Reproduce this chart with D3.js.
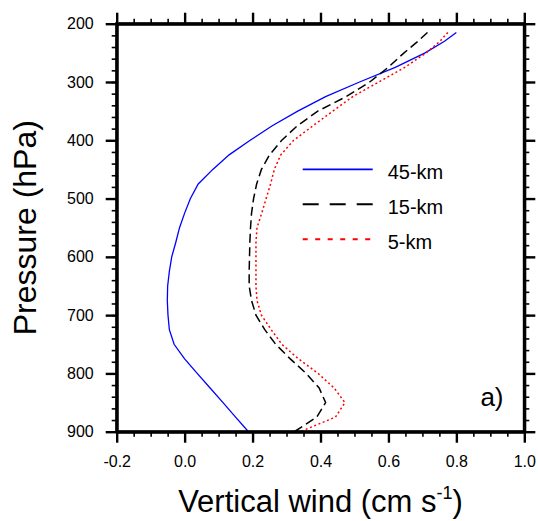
<!DOCTYPE html>
<html>
<head>
<meta charset="utf-8">
<script src="https://cdn.jsdelivr.net/npm/d3@7"></script>
<style>
  body { margin: 0; background: #fff; }
  text { font-family: Helvetica, Arial, "Liberation Sans", sans-serif; fill: #000; }
</style>
</head>
<body>
<svg id="chart" width="538" height="521"></svg>
<script>
// pressure levels (hPa), shared by the three runs
var levels = [215, 230, 250, 275, 300, 325, 350, 375, 400, 425, 450, 475, 500, 525, 550,
              575, 600, 625, 650, 675, 700, 725, 750, 775, 800, 825, 850, 875, 900];

// vertical wind (cm s-1)
var wind45 = [0.80, 0.765, 0.708, 0.62, 0.515, 0.415, 0.333, 0.258, 0.193, 0.131, 0.083, 0.040, 0.017, 0.0, -0.015,
              -0.026, -0.038, -0.045, -0.050, -0.051, -0.049, -0.045, -0.031, 0.0, 0.037, 0.075, 0.113, 0.150, 0.188];
var wind15 = [0.715, 0.687, 0.646, 0.599, 0.545, 0.476, 0.392, 0.332, 0.286, 0.250, 0.226, 0.212, 0.203, 0.197, 0.194,
              0.192, 0.191, 0.190, 0.190, 0.197, 0.210, 0.236, 0.268, 0.311, 0.358, 0.396, 0.415, 0.389, 0.323];
var wind5  = [0.775, 0.752, 0.711, 0.648, 0.572, 0.495, 0.436, 0.378, 0.321, 0.283, 0.264, 0.253, 0.240, 0.227, 0.213,
              0.210, 0.210, 0.210, 0.210, 0.213, 0.226, 0.255, 0.286, 0.335, 0.393, 0.440, 0.472, 0.444, 0.340];

var seriesNames = ["45-km", "15-km", "5-km"];
var xTicks = [-0.2, 0.0, 0.2, 0.4, 0.6, 0.8, 1.0];
var yTicks = [200, 300, 400, 500, 600, 700, 800, 900];

// plot box (window.top is reserved, so prefixed names)
var pLeft = 116.7, pRight = 524.3, pTop = 23.7, pBottom = 431.7;

var x = d3.scaleLinear().domain([-0.2, 1.0]).range([pLeft, pRight]);
var y = d3.scaleLinear().domain([200, 900]).range([pTop, pBottom]);

var svg = d3.select("#chart");

var styles = [
    {color: "#0000ff", width: 1.3, dash: null, legendDash: null},
    {color: "#000000", width: 1.5, dash: "9,4.5", legendDash: "16,11"},
    {color: "#ff0000", width: 1.5, dash: "2,2.6", legendDash: "5,7.5"}
];
var allSeries = [wind45, wind15, wind5];

var line = d3.line()
    .x(function (d) { return x(d[0]); })
    .y(function (d) { return y(d[1]); });

allSeries.forEach(function (vals, i) {
    var pts = vals.map(function (v, j) { return [v, levels[j]]; });
    svg.append("path")
        .attr("d", line(pts))
        .attr("fill", "none")
        .attr("stroke", styles[i].color)
        .attr("stroke-width", styles[i].width)
        .attr("stroke-dasharray", styles[i].dash);
});

// minor ticks
var xMinor = d3.range(-0.2, 1.0001, 0.05);
var yMinor = d3.range(200, 901, 20);

function drawAxis(gen, tr, minorGen) {
    var gm = svg.append("g").attr("transform", tr).call(minorGen);
    gm.selectAll("text").remove();
    gm.select(".domain").remove();
    gm.selectAll("line").attr("stroke-width", 1.6);
    var g = svg.append("g").attr("transform", tr).call(gen);
    g.select(".domain").attr("stroke-width", 3);
    g.selectAll(".tick line").attr("stroke-width", 2.4);
    g.attr("font-size", null).attr("font-family", null);
    g.selectAll("text").style("font-size", "16px");
    return g;
}

var fmtX = function (d) { return d.toFixed(1); };

drawAxis(d3.axisBottom(x).tickValues(xTicks).tickSize(11).tickSizeOuter(0).tickPadding(13).tickFormat(fmtX),
    "translate(0," + pBottom + ")",
    d3.axisBottom(x).tickValues(xMinor).tickSize(5).tickSizeOuter(0));

drawAxis(d3.axisTop(x).tickValues(xTicks).tickSize(11).tickSizeOuter(0).tickFormat(""),
    "translate(0," + pTop + ")",
    d3.axisTop(x).tickValues(xMinor).tickSize(5).tickSizeOuter(0));

drawAxis(d3.axisLeft(y).tickValues(yTicks).tickSize(11).tickSizeOuter(0).tickPadding(12).tickFormat(d3.format("d")),
    "translate(" + pLeft + ",0)",
    d3.axisLeft(y).tickValues(yMinor).tickSize(5).tickSizeOuter(0));

drawAxis(d3.axisRight(y).tickValues(yTicks).tickSize(11).tickSizeOuter(0).tickFormat(""),
    "translate(" + pRight + ",0)",
    d3.axisRight(y).tickValues(yMinor).tickSize(5).tickSizeOuter(0));

// frame
svg.append("rect")
    .attr("x", pLeft).attr("y", pTop)
    .attr("width", pRight - pLeft).attr("height", pBottom - pTop)
    .attr("fill", "none").attr("stroke", "#000").attr("stroke-width", 3);

// legend
var legX = 302.7, legY = 169.3, legStep = 35;
seriesNames.forEach(function (name, i) {
    var yy = legY + i * legStep;
    svg.append("line")
        .attr("x1", legX).attr("x2", legX + 70)
        .attr("y1", yy).attr("y2", yy)
        .attr("stroke", styles[i].color)
        .attr("stroke-width", styles[i].width + 0.4)
        .attr("stroke-dasharray", styles[i].legendDash);
    svg.append("text")
        .attr("x", legX + 85).attr("y", yy + 9.5)
        .style("font-size", "20px")
        .text(name);
});

// panel label
svg.append("text")
    .attr("x", 503.5).attr("y", 406)
    .attr("text-anchor", "end")
    .style("font-size", "26px")
    .text("a)");

// axis titles
var xt = svg.append("text")
    .attr("x", (pLeft + pRight) / 2).attr("y", 512)
    .attr("text-anchor", "middle")
    .style("font-size", "31px");
xt.append("tspan").text("Vertical wind (cm s");
xt.append("tspan").style("font-size", "18px").attr("dy", -13).text("-1");
xt.append("tspan").attr("dy", 13).text(")");

svg.append("text")
    .attr("transform", "translate(36," + ((pTop + pBottom) / 2) + ") rotate(-90)")
    .attr("text-anchor", "middle")
    .style("font-size", "32px")
    .text("Pressure (hPa)");
</script>
</body>
</html>
